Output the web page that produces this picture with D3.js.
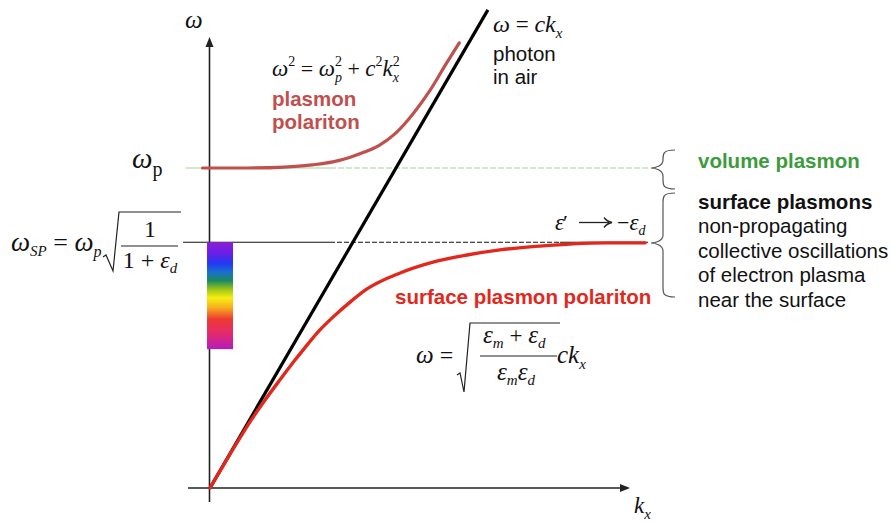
<!DOCTYPE html>
<html>
<head>
<meta charset="utf-8">
<script src="https://cdn.jsdelivr.net/npm/d3@7"></script>
<style>
  html, body { margin: 0; padding: 0; background: #fff; }
  svg { display: block; }
  .sans { font-family: Arial, "Liberation Sans", sans-serif; }
  .math { font-family: "Times New Roman", "Liberation Serif", serif; }
</style>
</head>
<body>
<svg id="chart" width="892" height="524"></svg>
<script>
// Dispersion of plasmon modes: normalised wavevector k = c·kx/ωp, frequency ω/ωp
const omegaP = 1.0;     // volume plasmon frequency
const omegaSP = 0.768;  // surface plasmon frequency
const kMax = 2.258;     // end of the kx axis
const wMax = 1.5;

// light line ω = c·kx
const photonK = [0, 1.494];
const photonW = [0, 1.494];

// bulk plasmon polariton branch (upper)
const plasmonK = [-0.04, 0.20, 0.40, 0.55, 0.66, 0.75, 0.83, 0.91, 1.00, 1.09, 1.18, 1.27, 1.34];
const plasmonW = [1.000, 1.000, 1.003, 1.010, 1.019, 1.033, 1.050, 1.071, 1.110, 1.168, 1.240, 1.326, 1.391];

// surface plasmon polariton branch (lower)
const sppK = [0, 0.108, 0.222, 0.296, 0.376, 0.457, 0.500, 0.591, 0.661, 0.753, 0.844, 1.022, 1.199, 1.382, 1.559, 1.774, 1.952, 2.134, 2.339];
const sppW = [0, 0.106, 0.213, 0.275, 0.338, 0.400, 0.431, 0.494, 0.534, 0.581, 0.622, 0.672, 0.706, 0.728, 0.744, 0.756, 0.763, 0.766, 0.766];

// visible spectrum band below ωSP
const spectrumTop = omegaSP;
const spectrumBottom = 0.434;
const spectrumStops = [
  [0.00, "#8a1ed6"], [0.10, "#6c1ee6"], [0.20, "#1f3af2"], [0.28, "#1a70cc"],
  [0.36, "#1b8a5e"], [0.44, "#9cc41a"], [0.52, "#f5ee10"], [0.61, "#f7b01e"],
  [0.72, "#ee3a33"], [0.85, "#e42a6c"], [1.00, "#b41cbc"]
];

// right-hand annotations
const noteLines = ["non-propagating", "collective oscillations", "of electron plasma", "near the surface"];

const svg = d3.select("#chart");
const x = d3.scaleLinear().domain([0, kMax]).range([210, 630]);
const y = d3.scaleLinear().domain([0, wMax]).range([488, 8]);

const line = d3.line().x(d => x(d[0])).y(d => y(d[1]));
const zip = (a, b) => a.map((v, i) => [v, b[i]]);

// --- reference levels -------------------------------------------------
const kLeft = -0.13, kSolidEnd = 0.645, kRight = 2.355;
svg.append("path").attr("d", line([[kLeft, omegaP], [kSolidEnd, omegaP]]))
  .attr("stroke", "#9fd49f").attr("stroke-width", 1.1).attr("fill", "none");
svg.append("path").attr("d", line([[kSolidEnd, omegaP], [kRight, omegaP]]))
  .attr("stroke", "#9fd49f").attr("stroke-width", 1.1).attr("fill", "none")
  .attr("stroke-dasharray", "6,2");

svg.append("path").attr("d", line([[-0.145, omegaSP], [kSolidEnd, omegaSP]]))
  .attr("stroke", "#111").attr("stroke-width", 1.1).attr("fill", "none");
svg.append("path").attr("d", line([[kSolidEnd, omegaSP], [1.882, omegaSP]]))
  .attr("stroke", "#111").attr("stroke-width", 1.1).attr("fill", "none")
  .attr("stroke-dasharray", "5,2");
svg.append("path").attr("d", line([[1.882, omegaSP], [kRight, omegaSP]]))
  .attr("stroke", "#111").attr("stroke-width", 1.1).attr("fill", "none");

// --- axes --------------------------------------------------------------
const axisColor = "#222";
svg.append("line").attr("x1", x(-0.118)).attr("x2", x(kMax) - 6)
  .attr("y1", y(0)).attr("y2", y(0)).attr("stroke", axisColor).attr("stroke-width", 1.6);
svg.append("path")
  .attr("d", `M${x(kMax)},${y(0)} l-10,-4 l0,8 z`).attr("fill", axisColor);
svg.append("line").attr("x1", x(0) - 0.5).attr("x2", x(0) - 0.5)
  .attr("y1", y(-0.044)).attr("y2", y(1.409) + 6).attr("stroke", axisColor).attr("stroke-width", 1.6);
svg.append("path")
  .attr("d", `M${x(0) - 0.5},${y(1.409)} l-4,10 l8,0 z`).attr("fill", axisColor);

// --- spectrum bar -----------------------------------------------------
const grad = svg.append("defs").append("linearGradient")
  .attr("id", "spectrum").attr("x1", 0).attr("x2", 0).attr("y1", 0).attr("y2", 1);
grad.selectAll("stop").data(spectrumStops).join("stop")
  .attr("offset", d => d[0]).attr("stop-color", d => d[1]);
svg.append("rect")
  .attr("x", x(-0.016)).attr("width", 26)
  .attr("y", y(spectrumTop)).attr("height", y(spectrumBottom) - y(spectrumTop))
  .attr("fill", "url(#spectrum)");

// --- dispersion curves ------------------------------------------------
const curve = d3.line().x(d => x(d[0])).y(d => y(d[1])).curve(d3.curveMonotoneX);
svg.append("path").attr("d", line(zip(photonK, photonW)))
  .attr("stroke", "#000").attr("stroke-width", 3.2).attr("fill", "none");
svg.append("path").attr("d", curve(zip(plasmonK, plasmonW)))
  .attr("stroke", "#c0504d").attr("stroke-width", 3.2).attr("fill", "none")
  .attr("stroke-linecap", "round");
svg.append("path").attr("d", curve(zip(sppK, sppW)))
  .attr("stroke", "#e2281c").attr("stroke-width", 3.4).attr("fill", "none")
  .attr("stroke-linecap", "round");

// --- typeset helpers --------------------------------------------------
// runs: {t, it, s, sh (baseline shift, +down), dx}
function math(x0, y0, runs, opts = {}) {
  const t = svg.append("text").attr("class", "math").attr("x", x0).attr("y", y0)
    .attr("fill", opts.fill || "#111").attr("text-anchor", opts.anchor || "start");
  let cur = 0;
  runs.forEach(r => {
    const sh = r.sh || 0;
    t.append("tspan").text(r.t)
      .attr("font-size", r.s || 24)
      .attr("font-style", r.it === false ? "normal" : "italic")
      .attr("dy", sh - cur)
      .attr("dx", r.dx || 0);
    cur = sh;
  });
  return t;
}
function radical(x0, yMid, xTop, yBottom, yTop, xEnd) {
  const p = d3.path();
  p.moveTo(x0, yMid);
  p.lineTo(x0 + 3, yMid - 2);
  p.lineTo(xTop - 6, yBottom);
  p.lineTo(xTop, yTop);
  p.lineTo(xEnd, yTop);
  svg.append("path").attr("d", p.toString()).attr("fill", "none")
    .attr("stroke", "#222").attr("stroke-width", 1.2);
}
function hbar(x1, x2, yy) {
  svg.append("line").attr("x1", x1).attr("x2", x2).attr("y1", yy).attr("y2", yy)
    .attr("stroke", "#222").attr("stroke-width", 1.1);
}
function brace(xTip, yTop, yBot, yTip) {
  const xb = xTip + 12, xe = xTip + 24;
  const p = `M${xe},${yTop} C${xb},${yTop} ${xb},${yTop + 4} ${xb},${yTop + 9}
    L${xb},${yTip - 8} C${xb},${yTip - 2} ${xTip + 4},${yTip} ${xTip},${yTip}
    C${xTip + 4},${yTip} ${xb},${yTip + 2} ${xb},${yTip + 8}
    L${xb},${yBot - 9} C${xb},${yBot - 4} ${xb},${yBot} ${xe},${yBot}`;
  svg.append("path").attr("d", p).attr("fill", "none")
    .attr("stroke", "#555").attr("stroke-width", 1.2);
}

// --- axis labels ------------------------------------------------------
math(185, 28, [{ t: "ω", s: 25 }]);
math(634, 513, [{ t: "k", s: 23 }, { t: "x", s: 15, sh: 6 }]);

// ωp level label
math(132, 168, [{ t: "ω", s: 29 }, { t: "p", s: 20, it: false, sh: 8 }]);

// ωSP = ωp √(1 / (1 + εd))
math(11, 251, [{ t: "ω", s: 27 }, { t: "SP", s: 15, sh: 5 },
  { t: " = ", s: 26, it: false, sh: 0 }, { t: "ω", s: 27 }, { t: "p", s: 16, sh: 6 }]);
radical(103, 257, 119, 271, 212, 181);
math(150, 237, [{ t: "1", s: 24, it: false }], { anchor: "middle" });
hbar(121, 178, 246);
math(150, 268, [{ t: "1 + ", s: 24, it: false }, { t: "ε", s: 24 }, { t: "d", s: 15, sh: 5 }], { anchor: "middle" });

// ω² = ωp² + c²kx²
math(272, 76, [{ t: "ω", s: 23 }, { t: "2", s: 14, it: false, sh: -10 },
  { t: " = ", s: 22, it: false, sh: 0 }, { t: "ω", s: 23 }, { t: "2", s: 14, it: false, sh: -10 },
  { t: "p", s: 14, sh: 6, dx: -7 }, { t: " + ", s: 22, it: false, sh: 0 },
  { t: "c", s: 23 }, { t: "2", s: 14, it: false, sh: -10 }, { t: "k", s: 23, sh: 0 },
  { t: "2", s: 14, it: false, sh: -10 }, { t: "x", s: 14, sh: 6, dx: -7 }]);

// ω = ckx
math(493, 32, [{ t: "ω", s: 24 }, { t: " = ", s: 23, it: false }, { t: "ck", s: 24 }, { t: "x", s: 15, sh: 6 }]);

// ε' → −εd
math(555, 230, [{ t: "ε", s: 23 }, { t: "′", s: 22, it: false, dx: -1 }]);
svg.append("line").attr("x1", 579).attr("x2", 609).attr("y1", 222.5).attr("y2", 222.5)
  .attr("stroke", "#222").attr("stroke-width", 1.3);
svg.append("path").attr("d", "M604,217.5 Q607,221.5 612,222.5 Q607,223.5 604,227.5")
  .attr("fill", "none").attr("stroke", "#222").attr("stroke-width", 1.3);
math(617, 230, [{ t: "−", s: 22, it: false }, { t: "ε", s: 23 }, { t: "d", s: 14, sh: 5 }]);

// ω = √((εm + εd)/(εm εd)) c kx
math(416, 363, [{ t: "ω", s: 25 }, { t: " =", s: 24, it: false }]);
radical(457, 375, 470, 392, 323, 560);
math(483, 343, [{ t: "ε", s: 25 }, { t: "m", s: 15, sh: 5 }, { t: " + ", s: 23, it: false, sh: 0 },
  { t: "ε", s: 25 }, { t: "d", s: 15, sh: 5 }]);
hbar(480, 557, 356);
math(497, 380, [{ t: "ε", s: 25 }, { t: "m", s: 15, sh: 5 }, { t: "ε", s: 25, sh: 0 }, { t: "d", s: 15, sh: 5 }]);
math(557, 363, [{ t: "ck", s: 25 }, { t: "x", s: 15, sh: 6 }]);

// --- words --------------------------------------------------------------
function words(x0, y0, str, fill, bold) {
  svg.append("text").attr("class", "sans").attr("x", x0).attr("y", y0)
    .attr("font-size", 20.5).attr("font-weight", bold ? "bold" : "normal")
    .attr("fill", fill).text(str);
}
words(493, 61, "photon", "#111", false);
words(493, 84, "in air", "#111", false);
words(272, 106, "plasmon", "#c0504d", true);
words(272, 129, "polariton", "#c0504d", true);
words(395, 304, "surface plasmon polariton", "#e2281c", true);
words(698, 168, "volume plasmon", "#3c9b3c", true);
words(698, 208.5, "surface plasmons", "#111", true);
noteLines.forEach((s, i) => words(698, 233 + i * 24.6, s, "#111", false));

brace(651, 150, 189, 168);
brace(651, 193, 297, 243);
</script>
</body>
</html>
